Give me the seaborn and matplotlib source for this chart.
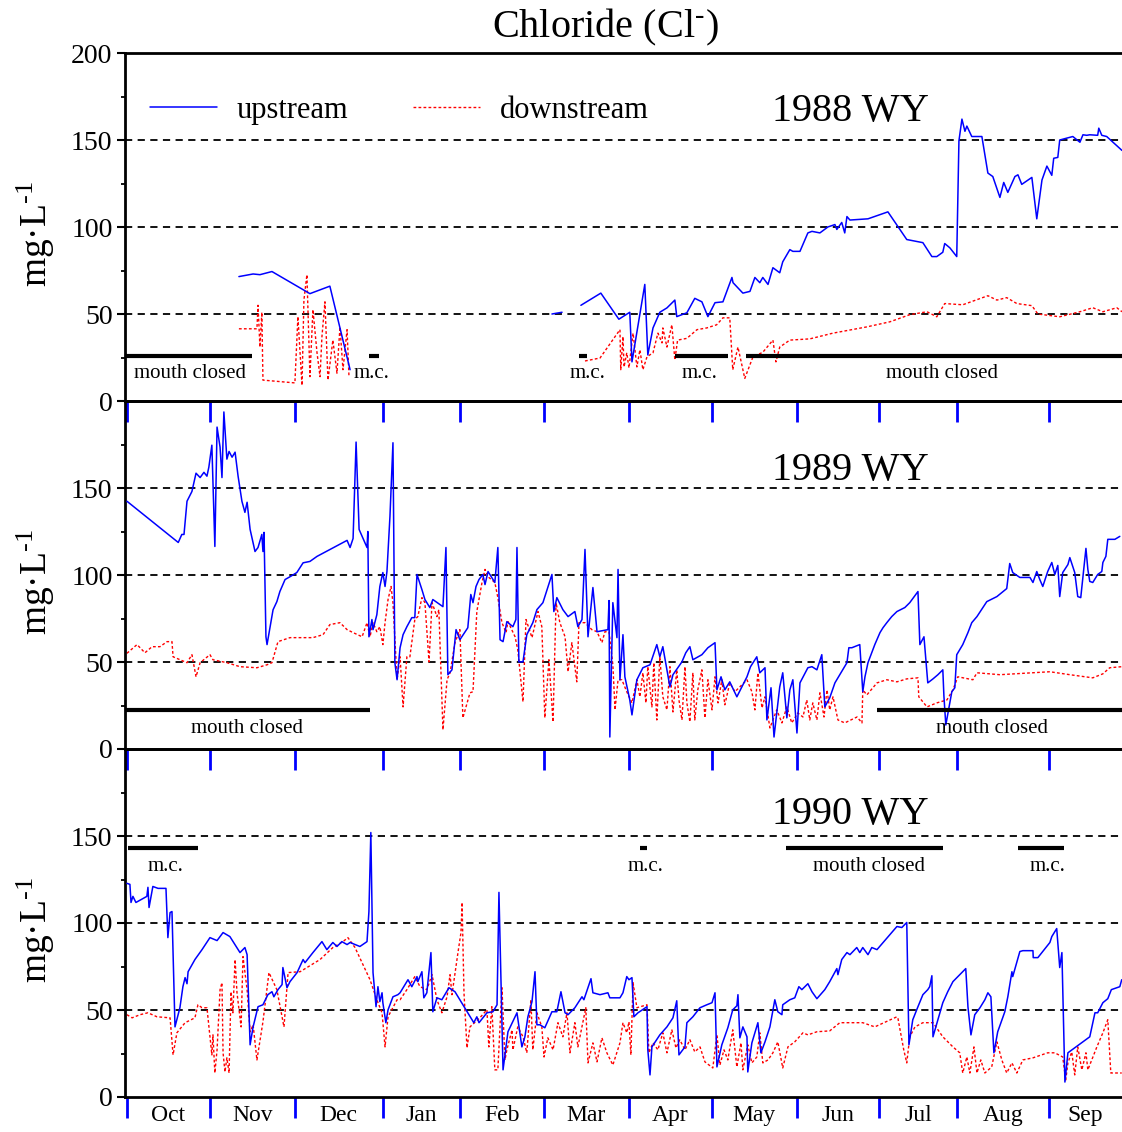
import numpy as np
import pandas as pd
import matplotlib
matplotlib.use("Agg")
import matplotlib.pyplot as plt
import seaborn as sns
from matplotlib.lines import Line2D

nan = np.nan

# ---------------- data (day of water year, mg/L) ----------------
up88_day = [41.7, 46.9, 49.4, 53.8, 67.7, 75.0, 82.4, nan,
            156.3, 160.0, nan,
            166.9, 174.2, 180.8, 184.8, 185.6, 190.3, 191.4, 193.3, 195.8, 198.4, 201.3, 202.0,
            205.7, 208.6, 211.2, 213.4, 216.0, 218.9, 222.2, 222.6, 226.2, 228.8, 230.6, 232.4,
            233.5, 235.4, 237.2, 239.7, 240.8, 243.4, 244.5, 247.1, 250.0, 251.5, 254.4, 257.3,
            259.9, 260.6, 262.4, 263.5, 264.3, 265.4, 272.0, 279.3, 286.2, 292.1, 295.4, 297.2,
            299.4, 300.1, 302.0, 304.5, 305.3, 306.4, 307.5, 308.2, 310.0, 313.7, 315.9, 317.7,
            320.3, 321.7, 323.2, 325.8, 326.9, 328.3, 332.0, 333.8, 335.7, 337.5, 339.3, 340.0,
            341.5, 342.2, 347.0, 349.6, 350.7, 352.1, 353.2, 356.1, 356.5, 357.6, 359.4, 365.0]
up88_val = [71.5, 73, 72.6, 74.4, 61.7, 66, 18, nan,
            50, 51, nan,
            55, 62, 47, 51, 22.5, 67, 26.5, 42, 51, 53.5, 58, 48.5,
            50.7, 59, 57, 48.5, 56.5, 57, 71, 68, 62, 63, 71, 68,
            71, 67, 76.6, 73.7, 80, 87, 86, 86, 96.6, 97.5, 96.6, 100,
            101.4, 98.6, 102.6, 96.6, 106, 104, 104.7, 108.7, 92.8, 91, 83, 83,
            85.5, 90.5, 88, 83, 149.5, 162, 155, 158, 152, 152, 131, 129,
            117, 125.6, 119.9, 129, 130, 124.5, 128.5, 104.7, 127, 135, 129.7, 139.5,
            140, 150, 152, 148.7, 153, 152.7, 153, 152.7, 156.8, 152.7, 152, 144]

dn88_day = [41.7, 48.3, 48.7, 49.4, 50.1, 50.5, 62.2, 63.3, 64.8, 65.5, 66.6, 67.7, 68.8, 70.3,
            71.4, 72.1, 73.2, 74.3, 76.1, 77.6, 78.7, 79.8, 81.3, 82.0, nan,
            168.4, 173.9, 181.2, 181.5, 182.3, 182.7, 183.7, 184.5, 186.0, 187.4, 188.5, 189.6,
            191.1, 193.3, 195.1, 196.6, 196.9, 198.4, 200.2, 201.3, 202.3, 205.7, 209.4, 213.0,
            216.6, 218.9, 221.4, 222.5, 224.4, 226.9, 229.9, 233.5, 237.2, 238.3, 239.7, 243.4,
            250.7, 259.2, 271.6, 280.0, 287.3, 293.6, 297.2, 300.1, 306.7, 315.9, 319.2, 322.8,
            326.5, 332.0, 334.2, 342.2, 349.6, 354.3, 358.0, 363.1, 365.0]
dn88_val = [41.5, 41.5, 55, 31, 51, 12, 10.4, 48.5, 9, 58, 72.6, 14, 52.5, 27.7,
            14, 37, 57, 12, 35, 16, 42.6, 18, 41, 14, nan,
            23, 24.7, 41, 18, 37, 19.6, 27.7, 19, 39, 19.6, 29.4, 18,
            25.4, 27.7, 39, 33.4, 42, 31, 43.8, 23.6, 35, 36, 41, 42,
            43.8, 47.8, 47.8, 18, 31, 13, 25.4, 28, 35, 22.5, 31, 35,
            35.7, 39, 42.6, 45.5, 49.6, 51.3, 48.4, 56, 55.3, 60.5, 58, 59.4,
            56, 54.8, 50, 48.4, 51.3, 53.6, 51.3, 53.6, 51.3]

up89_day = [0.7, 19.5, 20.8, 21.6, 22.7, 24.5, 26.0, 27.5, 28.9, 30.0, 30.7, 31.8, 32.9, 33.7,
            34.8, 35.5, 36.2, 37.3, 38.1, 39.2, 40.3, 41.4, 42.8, 43.9, 44.7, 45.8, 47.6, 48.7,
            50.1, 50.5, 50.9, 51.6, 52.0, 54.2, 55.6, 56.7, 58.6, 60.4, 62.9, 65.2, 67.7, 70.3,
            81.3, 82.4, 83.5, 84.6, 85.7, 88.6, 88.9, 89.3, 90.4, 90.8, 92.2, 93.3, 94.4, 95.2,
            95.9, 97.0, 98.1, 98.8, 99.6, 100.7, 101.8, 103.2, 105.0, 106.1, 106.9, 108.7, 109.8,
            111.6, 112.7, 116.4, 117.5, 118.2, 119.7, 121.2, 122.6, 125.5, 126.6, 127.4, 128.5,
            129.6, 131.0, 131.8, 132.9, 135.4, 136.5, 137.3, 138.4, 139.8, 142.0, 143.1, 143.5,
            144.2, 145.7, 147.1, 149.3, 150.8, 153.0, 156.3, 157.0, 158.1, 160.3, 162.2, 164.7,
            165.8, 167.3, 168.4, 169.5, 171.3, 172.8, 176.8, 177.2, 177.5, 178.6, 180.1, 180.5,
            181.2, 182.3, 183.0, 184.8, 185.6, 187.4, 189.6, 192.2, 194.7, 195.8, 196.9, 199.5,
            200.6, 203.9, 205.3, 206.8, 207.9, 211.2, 213.4, 216.0, 216.7, 218.2, 219.6, 221.4,
            224.0, 227.7, 229.0, 231.3, 232.4, 234.3, 235.0, 236.5, 237.6, 239.7, 240.8, 242.3,
            243.4, 244.5, 246.0, 247.1, 250.0, 251.5, 253.3, 255.1, 256.2, 258.0, 259.9, 261.7,
            264.3, 265.0, 266.1, 269.0, 270.1, 270.9, 272.0, 274.5, 276.4, 277.5, 278.9, 280.7,
            282.6, 285.5, 287.3, 290.3, 291.0, 292.5, 293.9, 295.8, 297.6, 299.4, 299.8, 300.5,
            302.7, 303.8, 304.5, 306.7, 308.6, 310.0, 311.9, 315.5, 319.2, 322.8, 323.9, 325.0,
            327.6, 331.3, 332.4, 333.8, 334.9, 336.0, 337.8, 339.3, 340.4, 341.5, 342.2, 343.3,
            345.2, 345.9, 347.7, 348.8, 349.9, 350.7, 351.8, 352.5, 353.2, 354.3, 356.1, 357.6,
            358.0, 359.1, 359.8, 362.4, 364.2]
up89_val = [142.4, 118.7, 123.3, 123.3, 142.4, 148, 158.5, 156, 159, 156.8, 162, 174.6, 116.4, 185,
            173.5, 156, 193.7, 166.6, 171, 167.7, 170.6, 156.8, 142.4, 136, 141.8, 126.2, 113.5, 115.8,
            123.3, 113.5, 124.5, 64.5, 60, 80, 84.7, 90.5, 97.4, 99, 101.4, 107, 107.8, 110.7,
            119.9, 115.8, 121, 176.4, 126.2, 115.8, 125, 64.5, 74.4, 68.6, 77.2, 93.4, 101.4, 93.4,
            102, 133.7, 176, 49.6, 39.8, 58.2, 65.7, 70.3, 75.5, 75.5, 100.3, 91.6, 85.9,
            81.3, 85.9, 81.8, 115.8, 42.7, 45.5, 68.6, 62.8, 69.7, 88.8, 84.1, 93.4,
            97.4, 100.3, 94.5, 102, 95.7, 115.8, 62.8, 61.7, 73.2, 70.3, 74.4, 115.8,
            50.1, 50.1, 65.7, 72.6, 80.1, 84.1, 100.3, 79, 87, 80.1, 76.1, 79,
            70.3, 74.4, 114.7, 64.5, 92.8, 67.4, 68.6, 85.3, 6.9, 84.1, 64, 103.2,
            39.8, 65.7, 41.5, 28.2, 19.6, 39.8, 46.7, 48.4, 60, 53, 58.8, 35.7,
            42.7, 50.1, 55.3, 58.8, 51.3, 54.2, 58.2, 61.1, 34, 41.5, 34, 38.6,
            30, 41.5, 47.3, 53, 43.8, 46.7, 16.7, 35.2, 6.9, 35.7, 43.8, 17.9,
            34, 39.8, 9.2, 38, 46.7, 47.3, 45.5, 54.2, 24.2, 29.4, 38, 42.7,
            49.6, 58.2, 58.2, 60, 32.9, 41.5, 49.6, 60, 66.9, 69.7, 72.6, 76.1,
            79, 81.3, 84.1, 90.5, 60, 64.5, 38, 40.3, 42.7, 45.5, 30.5, 13.8,
            32.9, 35.2, 54.2, 60, 66.9, 72.6, 76.1, 84.7, 87.6, 92.2, 106.6, 101.4,
            98.6, 98.6, 95.7, 102, 97.4, 93.4, 102, 107.2, 100.3, 105.5, 87.6, 101.4,
            106, 110, 101.4, 87.6, 87, 99, 115.3, 103.2, 96.3, 95.7, 100.3, 102,
            107.2, 110.7, 120.5, 120.5, 122.2]

dn89_day = [0.7, 4.4, 7.3, 9.9, 12.8, 15.4, 17.2, 17.6, 20.1, 22.7, 24.5, 26.0, 27.5, 31.1, 32.2,
            37.3, 42.1, 48.3, 52.0, 53.8, 56.0, 60.4, 68.8, 72.5, 75.0, 78.7, 81.3, 83.5, 86.8,
            88.6, 89.7, 90.8, 92.2, 93.3, 94.4, 95.2, 96.3, 97.4, 98.1, 99.6, 100.7, 101.8, 103.2,
            104.3, 106.1, 107.2, 108.7, 109.8, 111.3, 112.4, 114.2, 114.9, 116.4, 117.9, 119.0,
            120.8, 122.6, 123.7, 126.3, 127.4, 128.8, 130.7, 131.8, 132.9, 135.4, 136.5, 138.0,
            139.5, 140.2, 142.8, 143.8, 145.7, 146.8, 149.0, 151.2, 152.6, 153.7, 155.2, 156.7,
            157.8, 159.2, 161.1, 162.2, 163.6, 165.4, 166.2, 168.4, 170.9, 172.8, 174.6, 175.7,
            177.2, 178.6, 179.4, 180.5, 181.9, 183.7, 185.6, 187.4, 188.5, 189.6, 190.7, 191.4,
            192.9, 193.6, 194.7, 195.8, 196.9, 198.4, 199.5, 200.6, 202.0, 202.8, 203.9, 205.0,
            205.7, 206.8, 207.9, 208.6, 209.7, 211.2, 212.3, 213.4, 214.9, 216.0, 217.1, 218.5,
            219.6, 221.4, 223.3, 225.1, 227.7, 229.5, 230.6, 231.7, 233.2, 234.3, 236.1, 238.6,
            240.5, 242.3, 244.1, 246.3, 248.2, 249.6, 250.7, 251.8, 253.3, 254.4, 255.9, 257.0,
            258.0, 259.2, 261.0, 263.5, 268.0, 269.8, 270.1, 271.6, 275.3, 278.9, 282.6, 286.2,
            290.3, 290.6, 293.6, 297.2, 300.9, 303.1, 304.9, 310.4, 311.9, 320.3, 332.4, 338.6,
            345.9, 354.3, 358.0, 360.5, 364.9]
dn89_val = [55, 60, 55.3, 58.8, 58.8, 61.7, 61.7, 53, 51.3, 49.6, 54.2, 41.5, 49.6, 54.2, 51.3,
            49.6, 47.3, 46.7, 48.4, 49.6, 61.7, 64, 64, 65.7, 71.5, 72.6, 68.6, 66.9, 64.5,
            72.6, 64.5, 72.6, 67.4, 70.3, 60, 72.6, 85.9, 93.4, 84.1, 39.8, 53, 24.2, 53,
            53, 74.4, 76.1, 87, 84.1, 50.1, 84.1, 76.1, 80.1, 11, 39.8, 43.8,
            61.1, 68.6, 17.9, 32.3, 32.9, 79, 95.7, 103.2, 99, 95.7, 87, 72.6,
            66.9, 73.2, 64.5, 57, 27.1, 74.4, 64, 79, 70.3, 17.9, 51.3, 15.6,
            84.1, 72.6, 64.5, 44.4, 61.1, 38.6, 72.6, 72.6, 68.6, 67.4, 61.1, 67.4,
            67.4, 48.4, 22.5, 39.8, 39.8, 32.9, 26.5, 39.8, 30, 43.8, 26.5, 47.3,
            24.2, 49.6, 16.7, 53, 30, 22.5, 47.3, 21.3, 45.5, 28.2, 16.7, 47.3,
            26.5, 15.6, 43.8, 16.7, 34, 45.5, 17.9, 39.8, 22.5, 41.5, 26.5, 39.8,
            25.4, 38, 32.9, 35.7, 39.8, 32.9, 22.5, 43.8, 23.6, 30, 12.1, 22.5,
            15, 24.2, 15, 20.7, 18.4, 28.2, 16.7, 26.5, 16.7, 32.3, 18.4, 34,
            22.5, 30, 16.7, 15, 18.4, 15, 34, 31.1, 38, 39.8, 38.6, 40.3,
            40.9, 30, 24.2, 26.5, 28.2, 34, 41.5, 39.8, 43.8, 42.7, 43.8, 44.4,
            42.7, 40.9, 43.2, 46.7, 47.3]

up90_day = [0.7, 1.8, 2.2, 2.9, 4.0, 8.0, 8.4, 8.8, 10.2, 12.1, 15.0, 15.7, 16.5, 17.2, 17.6, 18.3,
            20.1, 21.2, 22.0, 22.7, 23.1, 25.6, 28.2, 31.1, 33.7, 35.9, 38.4, 42.1, 43.9, 44.7,
            45.8, 46.9, 48.7, 50.5, 52.3, 53.8, 54.5, 56.0, 57.5, 57.8, 59.3, 60.4, 63.0, 65.2,
            65.9, 68.8, 72.1, 73.9, 76.1, 77.6, 79.4, 81.3, 82.4, 86.0, 88.6, 89.3, 90.0, 90.8,
            91.9, 92.6, 93.3, 94.1, 94.4, 95.5, 96.3, 98.1, 99.9, 100.7, 103.6, 105.0, 106.9,
            107.2, 108.7, 109.4, 110.5, 112.0, 112.7, 114.2, 116.0, 118.6, 120.8, 127.7, 128.8,
            129.6, 132.5, 134.7, 136.2, 136.9, 138.4, 140.2, 143.5, 145.3, 146.4, 147.5, 149.0,
            150.1, 150.8, 151.9, 153.7, 156.3, 158.1, 159.6, 161.1, 162.2, 164.7, 167.3, 168.0,
            170.6, 171.3, 173.9, 176.8, 177.5, 181.2, 182.3, 183.7, 184.5, 185.6, 186.3, 187.8,
            191.1, 191.4, 192.2, 192.9, 195.8, 198.4, 200.6, 202.0, 202.8, 205.0, 205.7, 207.9,
            210.5, 213.0, 214.9, 216.0, 216.7, 218.5, 220.7, 222.5, 224.0, 224.4, 225.1, 226.2,
            227.7, 228.0, 229.5, 231.7, 232.8, 234.3, 236.1, 237.9, 239.0, 240.5, 240.8, 243.4,
            245.2, 246.7, 247.8, 250.0, 251.5, 253.3, 256.2, 258.0, 260.6, 261.0, 262.4, 264.3,
            265.4, 267.9, 269.0, 270.1, 272.0, 273.4, 275.3, 282.6, 284.4, 286.2, 287.0, 288.4,
            290.3, 292.1, 293.9, 294.6, 295.4, 295.8, 297.6, 299.4, 301.2, 303.1, 304.9, 307.8,
            308.6, 309.7, 311.1, 313.0, 314.8, 315.9, 317.0, 318.1, 319.5, 322.1, 323.2, 324.7,
            325.0, 327.6, 328.7, 332.4, 332.5, 334.2, 338.6, 339.3, 341.1, 342.2, 343.0, 344.1,
            345.2, 353.2, 355.1, 356.1, 358.0, 359.8, 361.1, 364.2, 364.9]
up90_val = [122.8, 122.2, 111.8, 115.3, 111.8, 115.3, 120.5, 108.9, 121, 119.9, 119.9, 91.6, 106, 106.6, 83, 40.3,
            51.3, 63.4, 68.6, 65.1, 72, 79, 84.7, 91.6, 89.9, 94.5, 92.2, 83, 85.9, 81.8,
            30, 40.3, 51.9, 53, 58.8, 60.5, 57.6, 61.7, 64.6, 74.4, 62.8, 66.3, 71.5, 79,
            77.2, 83, 89.3, 84.7, 88.8, 86.5, 89.3, 87.6, 88.8, 86.5, 89.3, 106.6, 152, 71.5,
            51.9, 63.4, 54.8, 59.9, 54.2, 42.7, 50.1, 57.6, 58.8, 59.9, 67.4, 63.4, 69.2,
            66.3, 72, 57, 59.9, 83, 49, 57, 55.9, 62.8, 60.5, 42.7, 46.1,
            42.7, 48.4, 49, 53, 117.6, 15.6, 37.5, 48.4, 28.8, 34.6, 46.1, 54.8,
            72, 41.5, 41.5, 39.8, 49, 49, 60.5, 48.4, 47.3, 51.3, 57.6, 55.9,
            68, 59.9, 58.8, 59.9, 57, 57, 59.9, 69.2, 67.4, 68.6, 46.1, 48.4,
            51.9, 27.1, 12.7, 28.8, 35.7, 40.3, 45.5, 55.3, 24.2, 28.8, 42.7, 46.1,
            51.3, 53, 54.2, 59.9, 17.3, 30, 39.8, 50.1, 52.4, 58.8, 34, 40.3,
            34.6, 14.4, 31.1, 42.7, 25.4, 31.7, 40.3, 55.9, 49, 47.3, 53, 55.9,
            57, 63.4, 61.7, 65.1, 60.5, 56.5, 61.7, 66.3, 73.8, 70.3, 79, 83,
            81.8, 85.9, 83, 85.9, 81.8, 85.9, 84.7, 98, 97.4, 100.3, 30, 44.4,
            51.9, 58.8, 61.7, 63.4, 69.7, 34.6, 44.4, 54.2, 60.5, 66.3, 69.2, 73.8,
            51.9, 35.7, 47.3, 51.3, 55.9, 59.9, 57.6, 25.4, 37.5, 49, 57.6, 72,
            69.2, 83.6, 84.1, 84.1, 80.1, 80.1, 88.8, 92.2, 96.8, 74.4, 83, 8.6,
            25.4, 34.6, 48.4, 48.4, 54.2, 56.5, 61.7, 63.4, 67.4]

dn90_day = [0.7, 2.6, 5.5, 8.4, 11.7, 16.5, 17.6, 19.0, 22.0, 25.6, 26.7, 28.2, 30.0, 31.8, 32.2,
            32.9, 33.7, 34.8, 35.5, 35.9, 36.6, 37.3, 38.1, 38.8, 39.5, 40.3, 41.0, 42.5, 43.2,
            44.7, 45.8, 46.9, 48.3, 50.5, 52.7, 55.6, 58.2, 59.7, 64.1, 71.4, 76.1, 79.8, 81.6,
            84.2, 86.8, 89.7, 92.2, 94.1, 95.2, 96.3, 99.6, 100.7, 103.2, 106.1, 108.0, 110.5,
            112.4, 114.2, 116.0, 117.9, 119.0, 119.7, 121.9, 123.0, 123.4, 124.1, 124.8, 125.2,
            126.3, 129.9, 132.5, 133.2, 134.3, 135.4, 136.5, 138.0, 139.1, 139.8, 141.7, 142.0,
            143.8, 145.7, 147.1, 148.6, 149.3, 150.8, 152.6, 153.4, 154.8, 156.7, 158.5, 160.3,
            161.8, 162.9, 164.7, 165.8, 167.3, 168.7, 169.5, 171.3, 172.8, 174.6, 176.4, 178.6,
            181.2, 182.3, 183.7, 184.5, 185.2, 186.0, 187.4, 191.1, 191.8, 193.3, 195.1, 196.9,
            198.4, 200.2, 201.7, 203.1, 205.0, 206.8, 208.6, 210.5, 212.3, 215.2, 216.7, 217.8,
            219.3, 220.7, 222.5, 224.0, 225.5, 226.2, 228.0, 229.5, 231.3, 232.4, 233.5, 235.4,
            237.2, 239.0, 240.8, 242.7, 245.2, 248.2, 250.0, 253.3, 258.0, 261.7, 270.1, 274.5,
            282.6, 283.0, 285.1, 286.2, 287.3, 289.2, 292.1, 295.8, 299.4, 303.1, 305.6, 306.7,
            308.2, 309.3, 310.8, 311.9, 313.3, 314.8, 317.3, 319.2, 321.0, 322.8, 324.7, 326.5,
            328.7, 332.4, 337.8, 340.4, 343.3, 344.4, 345.2, 346.6, 347.7, 348.8, 350.3, 351.8,
            352.5, 355.8, 358.0, 359.8, 360.9, 364.9]
dn90_val = [47.3, 45.5, 47.3, 48.4, 46.1, 45.5, 24.2, 36.9, 42.7, 45.5, 53, 51.3, 51.3, 24.2, 35.7,
            13.8, 27.1, 61.7, 65.7, 25.4, 14.4, 22.5, 13.8, 60.5, 48.4, 79, 59.9, 40.3, 80.7,
            61.7, 37.5, 41.5, 21.3, 43.2, 71.5, 61.7, 40.3, 71.5, 72, 79, 85.9, 89.3, 91.6,
            85.9, 77.2, 67.4, 55.9, 48.4, 28.8, 46.1, 55.9, 55.9, 61.7, 69.2, 63.4, 61.7,
            70.3, 55.9, 48.4, 57.6, 70.3, 58.8, 83, 94.5, 111.8, 59.9, 40.3, 28.2,
            40.3, 45.5, 50.1, 28.8, 51.9, 15.6, 15.6, 62.8, 21.3, 27.1, 38.6, 27.1,
            40.3, 34.6, 25.4, 55.9, 27.1, 48.4, 40.3, 23, 34, 27.1, 42.7, 34.6,
            48.4, 25.4, 42.7, 28.8, 40.3, 51.3, 19.6, 31.1, 20.2, 34, 25.4, 18.4,
            31.1, 42.7, 36.9, 43.2, 24.2, 65.7, 51.3, 53, 25.4, 31.1, 27.1, 36.9,
            25.4, 38.6, 28.2, 32.9, 27.1, 32.9, 25.9, 28.8, 20.2, 16.7, 35.7, 18.4,
            27.1, 21.3, 38.6, 17.3, 31.1, 15.6, 30, 19.6, 23, 36.9, 19.6, 21.3,
            25.4, 31.7, 16.7, 28.8, 31.7, 36.9, 35.7, 37.5, 38, 42.7, 42.7, 40.3,
            46.1, 45, 27.1, 19.6, 34.6, 40.3, 42.7, 42.7, 34.6, 28.8, 25.4, 13.8,
            23, 13.8, 28.8, 13.8, 21.3, 13.8, 17.3, 31.7, 21.3, 13.8, 19.6, 13.8,
            21.3, 22.5, 25.4, 25.4, 23, 9.8, 19.6, 25.9, 12.7, 28.8, 15.6, 25.4,
            15.6, 28.8, 36.9, 44.4, 13.8, 13.8]

# mouth-closed periods: (start day, end day, label, label centre day)
closed88_start = [0.0, 89.3, 166.2, 201.3, 227.3]
closed88_end = [46.5, 93.0, 169.1, 220.7, 365.0]
closed88_label = ["mouth closed", "m.c.", "m.c.", "m.c.", "mouth closed"]
closed88_mid = [23.8, 90.4, 169.5, 210.5, 299.0]
closed89_start = [0.0, 275.3]
closed89_end = [89.7, 365.0]
closed89_label = ["mouth closed", "mouth closed"]
closed89_mid = [44.7, 317.3]
closed90_start = [1.1, 188.5, 242.0, 326.9]
closed90_end = [26.7, 191.0, 299.4, 343.7]
closed90_label = ["m.c.", "m.c.", "mouth closed", "m.c."]
closed90_mid = [15.0, 190.6, 272.3, 337.7]

month_bounds = [0.6, 31.1, 62.2, 94.3, 122.6, 153.4, 184.4, 214.9, 245.9, 276.1, 304.6, 338.2]
month_names = ["Oct", "Nov", "Dec", "Jan", "Feb", "Mar", "Apr", "May", "Jun", "Jul", "Aug", "Sep"]

years = ["1988 WY", "1989 WY", "1990 WY"]

# ---------------- style ----------------
sns.set_style("white")
plt.rcParams["font.family"] = ["Liberation Serif", "DejaVu Serif"]
plt.rcParams["mathtext.fontset"] = "custom"
plt.rcParams["mathtext.rm"] = "Liberation Serif"
plt.rcParams["mathtext.it"] = "Liberation Serif:italic"
plt.rcParams["mathtext.default"] = "regular"
for key in ["text.color", "axes.labelcolor", "xtick.color", "ytick.color",
            "xtick.labelcolor", "ytick.labelcolor"]:
    plt.rcParams[key] = "black"

BLUE = "#0000ff"
RED = "#ff0000"
DOT = (0, (2.0, 1.6))


def frame(days, vals):
    d = np.array(days, float)
    v = np.array(vals, float)
    seg = np.cumsum(np.isnan(d))
    m = ~np.isnan(d)
    return pd.DataFrame({"day": d[m], "val": v[m], "seg": seg[m]})


fig = plt.figure(figsize=(11.22, 11.32), dpi=100)
L = 125 / 1122
W = 997 / 1122
H = 348 / 1132
bottoms = [1 - 401 / 1132, 1 - 749 / 1132, 1 - 1097 / 1132]

series = [(up88_day, up88_val, dn88_day, dn88_val),
          (up89_day, up89_val, dn89_day, dn89_val),
          (up90_day, up90_val, dn90_day, dn90_val)]
closed = [(closed88_start, closed88_end, closed88_label, closed88_mid, 26, 15.6),
          (closed89_start, closed89_end, closed89_label, closed89_mid, 22.5, 11.5),
          (closed90_start, closed90_end, closed90_label, closed90_mid, 142.9, 132.6)]
year_y = [166.5, 160.0, 162.5]

mids = [(month_bounds[i] + (month_bounds[i + 1] if i + 1 < len(month_bounds) else 365)) / 2
        for i in range(len(month_bounds))]

for i in range(3):
    ax = fig.add_axes([L, bottoms[i], W, H])
    ax.set_facecolor("none")
    ax.set_xlim(0, 365)
    ax.set_ylim(0, 200)
    for g in [50, 100, 150]:
        ax.axhline(g, color="black", lw=1.3, ls=(0, (4, 3)), zorder=1)

    ud, uv, dd, dv = series[i]
    sns.lineplot(data=frame(dd, dv), x="day", y="val", units="seg", estimator=None,
                 sort=False, color=RED, lw=1.0, linestyle=DOT, ax=ax, legend=False, zorder=2)
    sns.lineplot(data=frame(ud, uv), x="day", y="val", units="seg", estimator=None,
                 sort=False, color=BLUE, lw=1.1, ax=ax, legend=False, zorder=3)

    cs, ce, cl, cm, cy, ly = closed[i]
    ax.hlines([cy] * len(cs), cs, ce, color="black", lw=3.0, zorder=4)
    for lab, m in zip(cl, cm):
        ax.text(m, ly, lab, ha="center", va="center", fontsize=15, color="black")

    ax.text(236.8, year_y[i], years[i], ha="left", va="center", fontsize=29, color="black")

    for s in ["left", "top", "bottom"]:
        ax.spines[s].set_visible(True)
        ax.spines[s].set_color("black")
        ax.spines[s].set_linewidth(2.0)
    ax.spines["right"].set_visible(False)

    ax.set_yticks([0, 50, 100, 150, 200] if i == 0 else [0, 50, 100, 150])
    ax.set_yticks([25, 75, 125, 175], minor=True)
    ax.tick_params(axis="y", which="major", direction="out", length=6, width=1.5,
                   labelsize=20, pad=3, left=True, color="black", labelcolor="black")
    ax.tick_params(axis="y", which="minor", direction="out", length=3, width=1.3,
                   left=True, color="black")

    ax.set_xticks(month_bounds)
    ax.set_xticklabels([""] * len(month_bounds))
    ax.tick_params(axis="x", which="major", direction="out", length=15, width=2.0,
                   color=BLUE, bottom=True)
    if i == 2:
        ax.set_xticks(mids, minor=True)
        ax.set_xticklabels(month_names, minor=True)
        ax.tick_params(axis="x", which="minor", length=0, labelsize=17, pad=6,
                       labelcolor="black")
    ax.set_xlabel("")
    ax.set_ylabel(r"mg·L$^{\text{-}1}$", fontsize=27, color="black")
    ax.yaxis.set_label_coords(-0.068, 0.48)

    if i == 0:
        handles = [Line2D([], [], color=BLUE, lw=1.1),
                   Line2D([], [], color=RED, lw=1.0, ls=DOT)]
        leg = ax.legend(handles, ["upstream", "downstream"], ncol=2, frameon=False,
                        loc="center left", bbox_to_anchor=(0.025, 0.835), borderpad=0,
                        borderaxespad=0, handlelength=2.2, handletextpad=0.65,
                        columnspacing=2.1, fontsize=22, labelcolor="black")

fig.text(605 / 1122, 1 - 27 / 1132, r"Chloride (Cl$^{\text{-}}$)", ha="center", va="center",
         fontsize=29, color="black")

fig.savefig("out.png", dpi=100)
